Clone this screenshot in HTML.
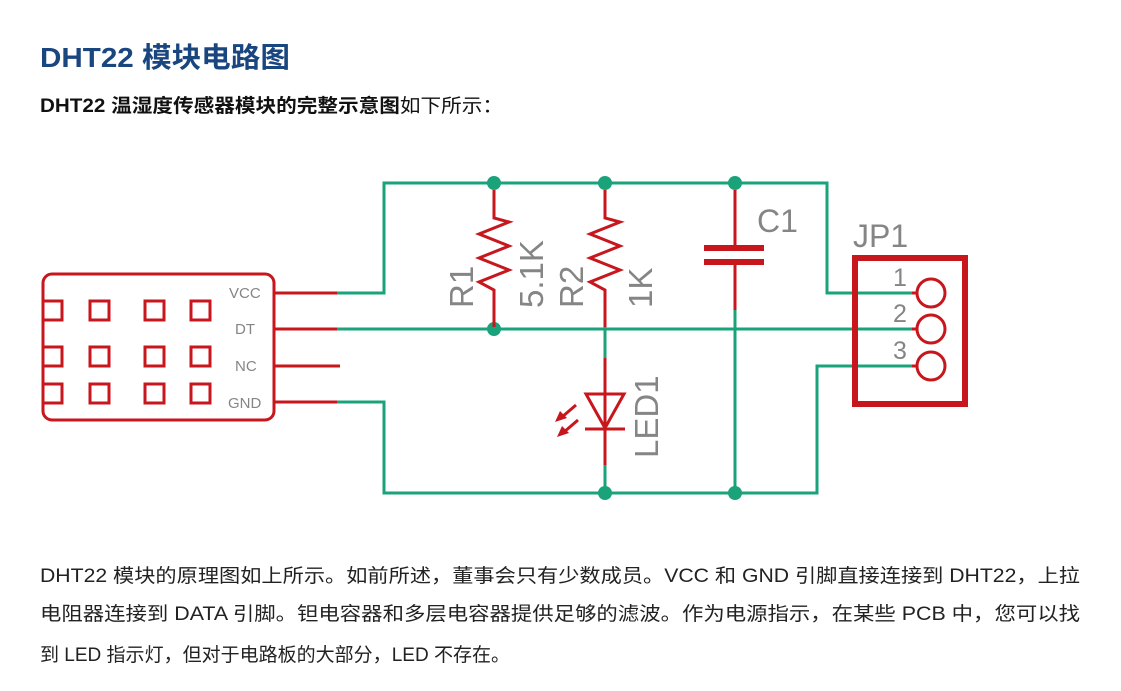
<!DOCTYPE html>
<html><head><meta charset="utf-8"><style>
html,body{margin:0;padding:0;background:#fff;width:1121px;height:691px;overflow:hidden}
svg{display:block}
.t{font-family:"Liberation Sans","Noto Sans CJK SC",sans-serif}
</style></head><body>
<svg width="1121" height="691" viewBox="0 0 1121 691" xmlns="http://www.w3.org/2000/svg">
<g class="t">
<text x="40" y="67" font-size="28" font-weight="bold" fill="#1a4680" textLength="250" lengthAdjust="spacingAndGlyphs">DHT22 模块电路图</text>
<text x="40" y="112" font-size="19" fill="#111" textLength="463" lengthAdjust="spacingAndGlyphs"><tspan font-weight="bold">DHT22 温湿度传感器模块的完整示意图</tspan>如下所示：</text>
<text x="40" y="582" font-size="19" fill="#222" textLength="1040" lengthAdjust="spacingAndGlyphs">DHT22 模块的原理图如上所示。如前所述，董事会只有少数成员。VCC 和 GND 引脚直接连接到 DHT22，上拉</text>
<text x="40" y="620" font-size="19" fill="#222" textLength="1040" lengthAdjust="spacingAndGlyphs">电阻器连接到 DATA 引脚。钽电容器和多层电容器提供足够的滤波。作为电源指示，在某些 PCB 中，您可以找</text>
<text x="40" y="661" font-size="19" fill="#222" textLength="470" lengthAdjust="spacingAndGlyphs">到 LED 指示灯，但对于电路板的大部分，LED 不存在。</text>
</g>
<g fill="none" stroke="#1aa37a" stroke-width="3">
<polyline points="337,293 384,293 384,183 827,183 827,293 912,293"/>
<line x1="337" y1="329" x2="912" y2="329"/>
<polyline points="337,402 384,402 384,493 817,493 817,366 912,366"/>
<line x1="605" y1="327" x2="605" y2="360"/>
<line x1="605" y1="463" x2="605" y2="493"/>
<line x1="735" y1="308" x2="735" y2="493"/>
</g>
<g fill="#1aa37a">
<circle cx="494" cy="183" r="7"/><circle cx="605" cy="183" r="7"/><circle cx="735" cy="183" r="7"/>
<circle cx="494" cy="329" r="7"/><circle cx="605" cy="493" r="7"/><circle cx="735" cy="493" r="7"/>
</g>
<g fill="none" stroke="#c8161d" stroke-width="3">
<rect x="43" y="274" width="231" height="146" rx="9"/>
<line x1="274" y1="293" x2="337" y2="293"/>
<line x1="274" y1="329" x2="337" y2="329"/>
<line x1="274" y1="366" x2="340" y2="366"/>
<line x1="274" y1="402" x2="337" y2="402"/>
<polyline points="43,301 62,301 62,320 43,320"/>
<polyline points="43,347 62,347 62,366 43,366"/>
<polyline points="43,384 62,384 62,403 43,403"/>
<rect x="90" y="301" width="19" height="19"/><rect x="145" y="301" width="19" height="19"/><rect x="191" y="301" width="19" height="19"/>
<rect x="90" y="347" width="19" height="19"/><rect x="145" y="347" width="19" height="19"/><rect x="191" y="347" width="19" height="19"/>
<rect x="90" y="384" width="19" height="19"/><rect x="145" y="384" width="19" height="19"/><rect x="191" y="384" width="19" height="19"/>
<polyline points="494,190 494,218 509,222 479,234 509,246 479,258 509,270 479,282 494,290 494,327"/>
<polyline points="605,190 605,218 620,222 590,234 620,246 590,258 620,270 590,282 605,290 605,327"/>
<line x1="605" y1="358" x2="605" y2="465"/>
<polygon points="586,394 624,394 605,428"/>
<line x1="585" y1="429" x2="625" y2="429"/>
<line x1="735" y1="190" x2="735" y2="248"/>
<line x1="735" y1="262" x2="735" y2="310"/>
<line x1="576" y1="405" x2="562" y2="417"/>
<line x1="578" y1="420" x2="564" y2="432"/>
<circle cx="931" cy="293" r="14"/><circle cx="931" cy="329" r="14"/><circle cx="931" cy="366" r="14"/>
<line x1="912" y1="293" x2="917" y2="293"/><line x1="912" y1="329" x2="917" y2="329"/><line x1="912" y1="366" x2="917" y2="366"/>
</g>
<g fill="#c8161d">
<rect x="704" y="245" width="60" height="6"/><rect x="704" y="259" width="60" height="6"/>
<polygon points="555,422 567,418 560,411"/><polygon points="557,437 569,433 562,426"/>
</g>
<rect x="855" y="258" width="110" height="146" fill="none" stroke="#c8161d" stroke-width="6"/>
<g class="t" fill="#858585">
<text x="229" y="298" font-size="15">VCC</text>
<text x="235" y="334" font-size="15">DT</text>
<text x="235" y="371" font-size="15">NC</text>
<text x="228" y="408" font-size="15">GND</text>
<text x="757" y="232" font-size="32">C1</text>
<text x="853" y="247" font-size="32">JP1</text>
<text x="893" y="286" font-size="25">1</text>
<text x="893" y="322" font-size="25">2</text>
<text x="893" y="359" font-size="25">3</text>
<text transform="translate(473,308) rotate(-90)" font-size="33">R1</text>
<text transform="translate(543,308) rotate(-90)" font-size="33">5.1K</text>
<text transform="translate(583,308) rotate(-90)" font-size="33">R2</text>
<text transform="translate(652,308) rotate(-90)" font-size="33">1K</text>
<text transform="translate(658,458) rotate(-90)" font-size="33">LED1</text>
</g>
</svg>
</body></html>
